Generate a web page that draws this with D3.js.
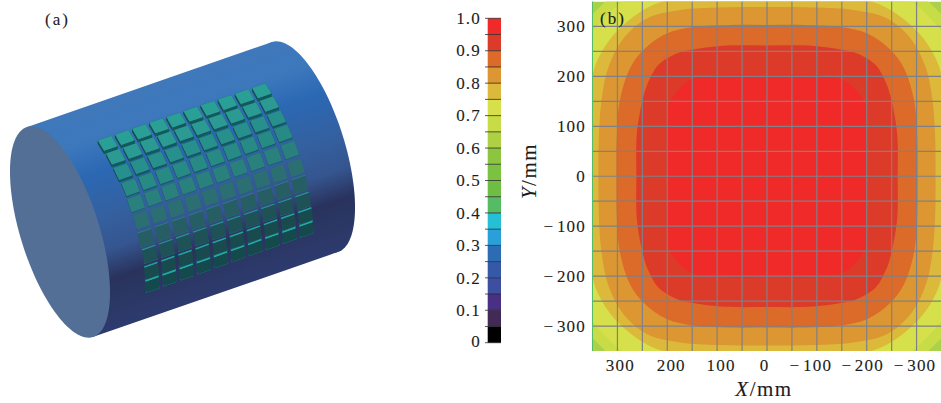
<!DOCTYPE html>
<html><head><meta charset="utf-8">
<script src="https://cdnjs.cloudflare.com/ajax/libs/d3/7.8.5/d3.min.js"></script>
<style>
html,body{margin:0;padding:0;background:#fff}
svg{display:block}
text{font-family:"Liberation Serif",serif;fill:#1c1c1c;stroke:#1c1c1c;stroke-width:.1px;font-size:17px;letter-spacing:1.2px}
text.title{font-size:21px;letter-spacing:1.5px}
text.panel{letter-spacing:2px}
</style></head><body>
<svg id="c" width="941" height="403"></svg>
<script>
// colour bar
const barLevels=[0,.05,.1,.15,.2,.25,.3,.35,.4,.45,.5,.55,.6,.65,.7,.75,.8,.85,.9,.95];
const barColors=["#000000","#412a55","#4a2f86","#3d50a0","#3559a6","#2b6cb5","#2b9fd9","#25c0d5","#55bb65","#6ebe44","#7cc242","#8cc63f","#aed044","#c8dc48","#d5e04a","#dcb93a","#dc9632","#dc6a28","#dc3b2a","#f02a28"];
const barLabels=["0","0.1","0.2","0.3","0.4","0.5","0.6","0.7","0.8","0.9","1.0"];
// field contours (one quadrant of each band outline, mm)
const contourLevels=[.65,.7,.75,.8,.85,.9,.95];
const contourX=[
 [0,250,337,400,420],
 [0,240,322,375,395],
 [0,120,209,248,281,308,335,350,362,365],
 [0,94,174,241,288,318,331,337,338],
 [0,74,148,201,248,275,295,301,302],
 [0,94,148,181,218,238,248,261,262],
 [0,94,134,161,181,196,199,200]];
const contourY=[
 [420,400,337,250,0],
 [395,375,322,240,0],
 [365,362,350,333,309,283,243,203,110,0],
 [339,338,333,316,276,219,159,86,0],
 [303,303,299,286,253,216,152,86,0],
 [262,261,254,246,223,189,159,86,0],
 [203,203,199,189,169,146,126,0]];
const xTicks=[300,200,100,0,-100,-200,-300];
const yTicks=[300,200,100,0,-100,-200,-300];
const gridVals=d3.range(-300,301,50);
// cylinder illustration
const cylStart=[60,232],cylAxis=[245,-85],cylMajor=[33,105],cylMinor=[37.6,-11.8];
const shadeStops=[0,.15,.3,.5,.65,.78,.86,1];
const shadeColors=["#3f78bb","#3d78bd","#2b68b3","#34609f","#35558f","#29325c","#2a3763","#2d3a6e"];
const faceColor="#546f95";
// tile array: row anchors at first and last column
const rowX0=[107.7,115.7,123,130.7,136,141.7,146,150,151.7,152.7];
const rowY0=[143.3,156.7,171.7,187.3,203.3,220,238.3,255,271.7,285];
const rowX1=[261.7,269.3,276.7,283.3,290,296,300,303.3,305.7,306.7];
const rowY1=[90.7,104,118.3,133.3,150,167.7,185,201.7,216.7,230];
const rowFace=["#2a9f96","#2a9a92","#28908c","#288a85","#2a807d","#2c6f72","#275e64","#1f5257","#194a4e","#154a4d"];
const rowEdge=["#125a5a","#125a5a","#125a5a","#14605f","#166664","#206a6c","#2a7f80","#24908f","#22a09d","#22a9a5"];
const rowDepthX=[0,0,0,0,0,0,-.3,-.4,-.5,-.5];
const rowDepthY=[3.5,3,2.4,1.6,1,.3,-1,-1.4,-1.7,-1.8];
const rowSide=[.39,.39,.39,.4,.4,.4,.4,.4,.4,.4];
const colSide=.395;
const nCols=10;

(function(){
const svg=d3.select("#c");
const defs=svg.append("defs");

// ---- panel a
const lenA=Math.hypot(...cylAxis);
const perp=[-cylAxis[1]/lenA,cylAxis[0]/lenA];
const cross=(a,b)=>a[0]*b[1]-a[1]*b[0];
const ell=(c,t)=>[c[0]+cylMajor[0]*Math.cos(t)+cylMinor[0]*Math.sin(t),c[1]+cylMajor[1]*Math.cos(t)+cylMinor[1]*Math.sin(t)];
const cylEnd=[cylStart[0]+cylAxis[0],cylStart[1]+cylAxis[1]];
const tanT=Math.atan2(cross(cylAxis,cylMinor),cross(cylAxis,cylMajor));
const tA=[ell(cylStart,tanT),ell(cylStart,tanT+Math.PI)];
const upper=tA[0][1]<tA[1][1]?tA[0]:tA[1], lower=tA[0][1]<tA[1][1]?tA[1]:tA[0];
const span=(lower[0]-upper[0])*perp[0]+(lower[1]-upper[1])*perp[1];
const grad=defs.append("linearGradient").attr("id","shade").attr("gradientUnits","userSpaceOnUse")
  .attr("x1",upper[0]).attr("y1",upper[1]).attr("x2",upper[0]+perp[0]*span).attr("y2",upper[1]+perp[1]*span);
shadeStops.forEach((o,i)=>grad.append("stop").attr("offset",o).attr("stop-color",shadeColors[i]));
const g=svg.append("g");
const ellipsePts=c=>d3.range(0,2*Math.PI,Math.PI/60).map(t=>ell(c,t));
const poly=d3.line().curve(d3.curveLinearClosed);
const upperE=[upper[0]+cylAxis[0],upper[1]+cylAxis[1]],lowerE=[lower[0]+cylAxis[0],lower[1]+cylAxis[1]];
g.append("path").attr("d",poly([upper,upperE,lowerE,lower])).attr("fill","url(#shade)");
g.append("path").attr("d",poly(ellipsePts(cylEnd))).attr("fill","url(#shade)");
g.append("path").attr("d",poly(ellipsePts(cylStart))).attr("fill",faceColor);

const tiles=g.append("g");
const col=d3.scaleLinear().domain([0,nCols-1]).range([0,1]);
const lerp=(a,b,t)=>d3.scaleLinear().range([a,b])(t);
function center(j,i){
  const t=col(i);
  return [lerp(rowX0[j],rowX1[j],t),lerp(rowY0[j],rowY1[j],t)];
}
const nRows=rowX0.length;
rowX0.forEach((_,j)=>{
  d3.range(nCols).forEach(i=>{
    const c=center(j,i);
    const a=center(j,Math.max(i-1,0)),b=center(j,Math.min(i+1,nCols-1));
    const k=(i===0||i===nCols-1)?1:2;
    const u=[(b[0]-a[0])/k*colSide,(b[1]-a[1])/k*colSide];
    const p=center(Math.max(j-1,0),i),n=center(Math.min(j+1,nRows-1),i);
    const m=(j===0||j===nRows-1)?1:2;
    const v=[(n[0]-p[0])/m*rowSide[j],(n[1]-p[1])/m*rowSide[j]];
    const q=(s,r)=>[c[0]+s*u[0]+r*v[0],c[1]+s*u[1]+r*v[1]];
    const F=[q(-1,-1),q(1,-1),q(1,1),q(-1,1)];
    const d=[rowDepthX[j],rowDepthY[j]];
    const B=F.map(P=>[P[0]+d[0],P[1]+d[1]]);
    [[0,1],[1,2],[2,3],[3,0]].forEach(([e0,e1])=>{
      const lateral=(e0===1||e0===3);
      tiles.append("path").attr("d",poly([F[e0],F[e1],B[e1],B[e0]]))
        .attr("fill",lateral?"#14504f":rowEdge[j]);
    });
    tiles.append("path").attr("d",poly(F)).attr("fill",rowFace[j]);
  });
});
svg.append("text").attr("class","panel").attr("x",45).attr("y",25).text("(a)");

// ---- colour bar
const barY=d3.scaleLinear().domain([0,1]).range([342.7,18.3]);
const barG=svg.append("g");
barLevels.forEach((l,i)=>{
  barG.append("rect").attr("x",487.7).attr("width",13.3)
    .attr("y",barY(l+.05)).attr("height",barY(l)-barY(l+.05)).attr("fill",barColors[i]);
});
barLevels.concat([1]).forEach(l=>{
  barG.append("line").attr("x1",485).attr("x2",501).attr("y1",barY(l)).attr("y2",barY(l))
    .attr("stroke","#222").attr("stroke-opacity",.75).attr("stroke-width",1);
});
barLabels.forEach(s=>{
  const v=+s;
  barG.append("text").attr("x",481).attr("y",barY(v)+(v===0?4:5.7)).attr("text-anchor","end").text(s);
});

// ---- panel b
const x=d3.scaleLinear().domain([350,-350]).range([592.5,941.5]);
const y=d3.scaleLinear().domain([350,-350]).range([1.5,351]);
defs.append("clipPath").attr("id","plot").append("rect")
  .attr("x",x(350)).attr("y",y(350)).attr("width",x(-350)-x(350)).attr("height",y(-350)-y(350));
const pb=svg.append("g").attr("clip-path","url(#plot)");
const colorAt=l=>barColors[barLevels.indexOf(l)];
pb.append("rect").attr("x",x(350)).attr("y",y(350)).attr("width",x(-350)-x(350)).attr("height",y(-350)-y(350)).attr("fill","#a9d14a");
const band=d3.line().x(d=>x(d[0])).y(d=>y(d[1])).curve(d3.curveCatmullRomClosed.alpha(.5));
contourLevels.forEach((l,k)=>{
  const q=contourX[k].map((v,i)=>[v,contourY[k][i]]);
  const loop=[...q,
    ...q.slice(0,-1).reverse().map(d=>[d[0],-d[1]]),
    ...q.slice(1).map(d=>[-d[0],-d[1]]),
    ...q.slice(1,-1).reverse().map(d=>[-d[0],d[1]])];
  pb.append("path").attr("d",band(loop)).attr("fill",colorAt(l));
});
gridVals.forEach(v=>{
  pb.append("line").attr("x1",x(v)).attr("x2",x(v)).attr("y1",y(350)).attr("y2",y(-350));
  pb.append("line").attr("y1",y(v)).attr("y2",y(v)).attr("x1",x(350)).attr("x2",x(-350));
});
pb.selectAll("line").attr("stroke","#7f8088").attr("stroke-width",1.2);
svg.append("line").attr("x1",x(350)).attr("x2",x(350)).attr("y1",y(350)).attr("y2",y(-350)).attr("stroke","#55bb65").attr("stroke-width",1);
const fmt=v=>v<0?"\u2212\u200a"+(-v):""+v;
const xDx=[3,4,4,-2.5,-6,-4,-1.5];
xTicks.forEach((v,i)=>{
  svg.append("text").attr("x",x(v)+xDx[i]).attr("y",371).attr("text-anchor","middle").text(fmt(v));
});
yTicks.forEach(v=>{
  svg.append("text").attr("x",586).attr("y",y(v)+5.7).attr("text-anchor","end").text(fmt(v));
});
svg.append("text").attr("class","panel").attr("x",600).attr("y",24).text("(b)");
const xt=svg.append("text").attr("class","title").attr("x",764).attr("y",396).attr("text-anchor","middle");
xt.append("tspan").attr("font-style","italic").text("X");xt.append("tspan").text("/mm");
const yt=svg.append("text").attr("class","title").attr("transform","translate(536,171) rotate(-90)").attr("text-anchor","middle");
yt.append("tspan").attr("font-style","italic").text("Y");yt.append("tspan").text("/mm");
})();
</script></body></html>
